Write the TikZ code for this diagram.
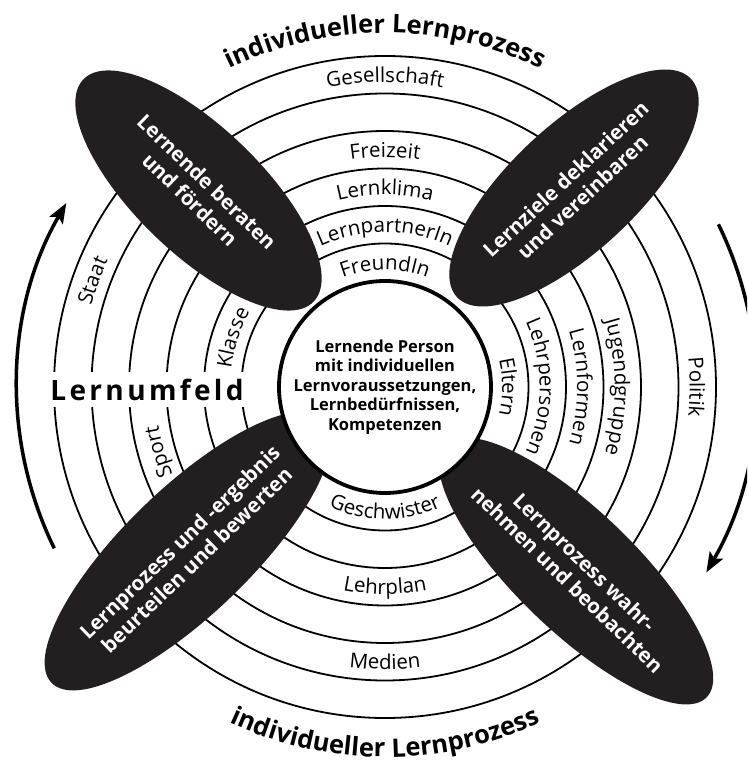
\documentclass[tikz,border=0pt]{standalone}
\usepackage{fontspec}
\setmainfont{Open Sans}
\newfontfamily\spacedfamily[LetterSpace=12]{Open Sans}
\usetikzlibrary{shapes.geometric, decorations.text, arrows.meta}

\definecolor{blobgray}{HTML}{231F20}

\newcommand{\ringfont}{\fontsize{20.5}{25}\selectfont}
\newcommand{\titlefont}{\fontsize{25.5}{30}\selectfont\bfseries}
\newcommand{\blobfont}{\fontsize{20.5}{24.5}\selectfont\bfseries}
\newcommand{\corefont}{\fontsize{16.5}{19.5}\selectfont\bfseries}
\newcommand{\fieldfont}{\fontsize{28}{32}\selectfont\spacedfamily\bfseries}

\tikzset{
	ring/.style={line width=1.8pt},
	ringtext/.style={decorate, decoration={text along path, text align=center, text={|\ringfont|#1}}},
	titletext/.style={decorate, decoration={text along path, text align=center, text={|\titlefont|#1}}},
	blob/.style={ellipse, fill=blobgray, text=white, font=\blobfont, align=center, inner sep=0pt, minimum width=320pt, minimum height=126pt},
	core/.style={circle, draw, line width=3.8pt, fill=white, font=\corefont, align=center, inner sep=0pt, minimum size=212pt},
	field/.style={fill=white, font=\fieldfont, inner xsep=3pt, inner ysep=0pt, minimum height=35pt},
	flow/.style={line width=3.5pt, -{Stealth[length=20pt, width=15pt, inset=4pt]}},
}

\begin{document}
\begin{tikzpicture}[x=1pt, y=1pt]
	\useasboundingbox (-385, -375) rectangle (362, 387);
	\clip (-385, -375) rectangle (362, 387);
	\fill[white] (-385, -375) rectangle (362, 387);

	% rings
	\draw[ring] (0, 0) circle (143.5);
	\draw[ring] (0, 0) circle (181);
	\draw[ring] (0, 0) circle (218.5);
	\draw[ring] (0, 0) circle (256);
	\draw[ring] (0, 0) circle (293.5);
	\draw[ring] (0, 0) circle (331);

	% top
	\path[ringtext=FreundIn] (130:117.25) arc[start angle=130, end angle=50, radius=117.25];
	\path[ringtext=LernpartnerIn] (130:154.75) arc[start angle=130, end angle=50, radius=154.75];
	\path[ringtext=Lernklima] (130:192.25) arc[start angle=130, end angle=50, radius=192.25];
	\path[ringtext=Freizeit] (130:229.75) arc[start angle=130, end angle=50, radius=229.75];
	\path[ringtext=Gesellschaft] (130:304.75) arc[start angle=130, end angle=50, radius=304.75];

	% right
	\path[ringtext=Eltern] (40:117.25) arc[start angle=40, end angle=-40, radius=117.25];
	\path[ringtext=Lehrpersonen] (40:154.75) arc[start angle=40, end angle=-40, radius=154.75];
	\path[ringtext=Lernformen] (40:192.25) arc[start angle=40, end angle=-40, radius=192.25];
	\path[ringtext=Jugendgruppe] (40:229.75) arc[start angle=40, end angle=-40, radius=229.75];
	\path[ringtext=Politik] (40:304.75) arc[start angle=40, end angle=-40, radius=304.75];

	% bottom
	\path[ringtext=Geschwister] (230:132.25) arc[start angle=230, end angle=310, radius=132.25];
	\path[ringtext=Lehrplan] (230:207.25) arc[start angle=230, end angle=310, radius=207.25];
	\path[ringtext=Medien] (230:282.25) arc[start angle=230, end angle=310, radius=282.25];

	% left
	\path[ringtext=Klasse] (202:154.75) arc[start angle=202, end angle=122, radius=154.75];
	\path[ringtext=Sport] (236:229.75) arc[start angle=236, end angle=156, radius=229.75];
	\path[ringtext=Staat] (200:304.75) arc[start angle=200, end angle=120, radius=304.75];

	\node[field] (umfeld) at (-238, -3) {Lernumfeld};

	% the four tasks
	\node[blob, rotate=-44] (beraten) at (-186.5, 196.5) {Lernende beraten\\und fördern};
	\node[blob, rotate=43] (lernziele) at (189, 199) {Lernziele deklarieren\\und vereinbaren};
	\node[blob, rotate=44] (beurteilen) at (-197, -164) {Lernprozess und -ergebnis\\beurteilen und bewerten};
	\node[blob, rotate=-44, minimum width=304pt, minimum height=120pt] (wahrnehmen) at (191, -184) {Lernprozess wahr-\\nehmen und beobachten};

	\node[core] (person) at (0, 0) {Lernende Person\\mit individuellen\\Lernvoraussetzungen,\\Lernbedürfnissen,\\Kompetenzen};

	% outside
	\path[titletext={individueller Lernprozess}] (150:354) arc[start angle=150, end angle=30, radius=354];
	\path[titletext={individueller Lernprozess}] (210:370) arc[start angle=210, end angle=330, radius=370];

	\coordinate (upstart) at (206:368);
	\coordinate (downstart) at (26:371);
	\draw[flow] (upstart) arc[start angle=206, end angle=150, radius=368];
	\draw[flow] (downstart) arc[start angle=26, end angle=-30, radius=371];
\end{tikzpicture}
\end{document}
